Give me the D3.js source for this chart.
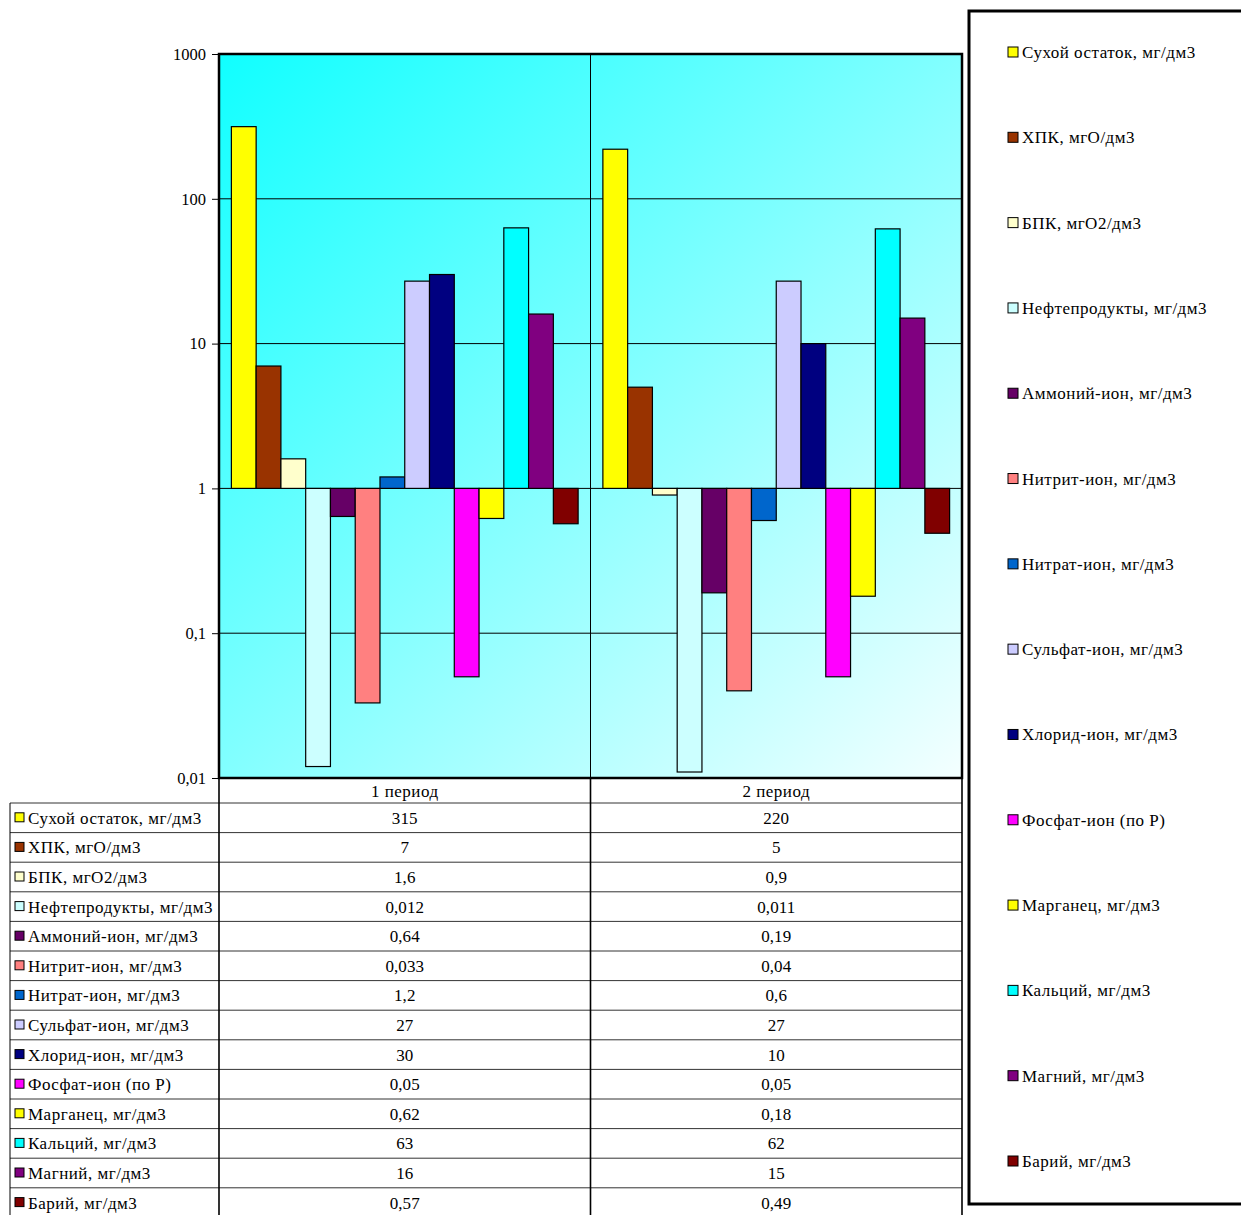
<!DOCTYPE html>
<html>
<head>
<meta charset="utf-8">
<script src="https://cdn.jsdelivr.net/npm/d3@7"></script>
<style>
  html, body { margin: 0; padding: 0; background: #fff; }
  svg text { font-family: "Liberation Serif", "Times New Roman", serif; fill: #000; }
  .lbl { font-size: 17px; letter-spacing: 0.5px; }
  .num { font-size: 17px; letter-spacing: 0.1px; }
</style>
</head>
<body>
<svg id="chart" width="1241" height="1215"></svg>
<script>
// Показатели качества воды по двум периодам
const periods = ["1 период", "2 период"];
const indicators = [
  "Сухой остаток, мг/дм3",
  "ХПК, мгО/дм3",
  "БПК, мгО2/дм3",
  "Нефтепродукты, мг/дм3",
  "Аммоний-ион, мг/дм3",
  "Нитрит-ион, мг/дм3",
  "Нитрат-ион, мг/дм3",
  "Сульфат-ион, мг/дм3",
  "Хлорид-ион, мг/дм3",
  "Фосфат-ион (по Р)",
  "Марганец, мг/дм3",
  "Кальций, мг/дм3",
  "Магний, мг/дм3",
  "Барий, мг/дм3"
];
const period1 = [315, 7, 1.6, 0.012, 0.64, 0.033, 1.2, 27, 30, 0.05, 0.62, 63, 16, 0.57];
const period2 = [220, 5, 0.9, 0.011, 0.19, 0.04, 0.6, 27, 10, 0.05, 0.18, 62, 15, 0.49];
const colors = ["#FFFF00", "#993300", "#FFFFCC", "#CCFFFF", "#660066", "#FF8080", "#0066CC",
                "#CCCCFF", "#000080", "#FF00FF", "#FFFF00", "#00FFFF", "#800080", "#800000"];
const yTicks = [0.01, 0.1, 1, 10, 100, 1000];

const fmt = v => String(v).replace(".", ",");
const series = [period1, period2];

const svg = d3.select("#chart");
const plot = { left: 219, right: 962, top: 54, bottom: 778 };

const defs = svg.append("defs");
const grad = defs.append("linearGradient").attr("id", "bg")
  .attr("x1", "0%").attr("y1", "0%").attr("x2", "100%").attr("y2", "100%");
grad.append("stop").attr("offset", "0%").attr("stop-color", "#10FFFF");
grad.append("stop").attr("offset", "100%").attr("stop-color", "#F4FFFF");

const y = d3.scaleLog().domain([0.01, 1000]).range([plot.bottom, plot.top]);
const x0 = d3.scaleBand().domain(periods).range([plot.left, plot.right]);
const x1 = d3.scaleBand().domain(d3.range(indicators.length))
  .range([0, x0.bandwidth()]).paddingOuter(0.5).paddingInner(0);

// plot background
svg.append("rect")
  .attr("x", plot.left).attr("y", plot.top)
  .attr("width", plot.right - plot.left).attr("height", plot.bottom - plot.top)
  .attr("fill", "url(#bg)");

// horizontal gridlines
svg.append("g").selectAll("line")
  .data(yTicks.filter(t => t > 0.01 && t < 1000))
  .join("line")
  .attr("x1", plot.left).attr("x2", plot.right)
  .attr("y1", d => y(d)).attr("y2", d => y(d))
  .attr("stroke", "#000").attr("stroke-width", 1);

// category divider
svg.append("line")
  .attr("x1", x0(periods[1])).attr("x2", x0(periods[1]))
  .attr("y1", plot.top).attr("y2", plot.bottom)
  .attr("stroke", "#000").attr("stroke-width", 1);

// bars grow from the value 1
const bars = [];
periods.forEach((p, pi) => {
  series[pi].forEach((v, i) => bars.push({ p, i, v }));
});
svg.append("g").selectAll("rect")
  .data(bars)
  .join("rect")
  .attr("x", d => x0(d.p) + x1(d.i))
  .attr("width", x1.bandwidth())
  .attr("y", d => Math.min(y(d.v), y(1)))
  .attr("height", d => Math.abs(y(d.v) - y(1)))
  .attr("fill", d => colors[d.i])
  .attr("stroke", "#000").attr("stroke-width", 1.2);

// plot border
svg.append("rect")
  .attr("x", plot.left).attr("y", plot.top)
  .attr("width", plot.right - plot.left).attr("height", plot.bottom - plot.top)
  .attr("fill", "none").attr("stroke", "#000").attr("stroke-width", 2.5);

// y axis
const yAxis = d3.axisLeft(y).tickValues(yTicks).tickSize(7).tickPadding(6)
  .tickFormat(d => fmt(d));
const ya = svg.append("g").attr("transform", `translate(${plot.left},0)`).call(yAxis);
ya.select(".domain").remove();
ya.selectAll("line").attr("stroke", "#000");
ya.selectAll("text").style("font-size", "16.5px")
  .style("font-family", "'Liberation Serif', serif");

// data table
const rowH = 29.6;
const headTop = plot.bottom, headBot = 803;
const tableLeft = 10;
const tbl = svg.append("g");

tbl.selectAll("text.period")
  .data(periods).join("text")
  .attr("class", "lbl")
  .attr("x", d => x0(d) + x0.bandwidth() / 2)
  .attr("y", (headTop + headBot) / 2 + 6)
  .attr("text-anchor", "middle")
  .text(d => d);

const rowY = i => headBot + i * rowH;
// horizontal rules
tbl.selectAll("line.h")
  .data(d3.range(indicators.length + 1)).join("line")
  .attr("x1", tableLeft).attr("x2", plot.right)
  .attr("y1", d => rowY(d)).attr("y2", d => rowY(d))
  .attr("stroke", "#333").attr("stroke-width", 1);
// vertical rules
[{ x: tableLeft, t: headBot }, { x: plot.left, t: headTop }, { x: x0(periods[1]), t: headTop }, { x: plot.right, t: headTop }]
  .forEach(v => {
    tbl.append("line").attr("x1", v.x).attr("x2", v.x)
      .attr("y1", v.t).attr("y2", 1215)
      .attr("stroke", "#000").attr("stroke-width", v.x === tableLeft ? 1 : 1.6);
  });

const rows = tbl.selectAll("g.row").data(indicators).join("g");
rows.append("rect")
  .attr("x", 15).attr("y", (d, i) => rowY(i) + rowH / 2 - 5)
  .attr("width", 9).attr("height", 9)
  .attr("fill", (d, i) => colors[i]).attr("stroke", "#000").attr("stroke-width", 1);
rows.append("text")
  .attr("class", "lbl")
  .attr("x", 28).attr("y", (d, i) => rowY(i) + rowH / 2 + 6)
  .text(d => d);
periods.forEach((p, pi) => {
  rows.append("text")
    .attr("class", "num")
    .attr("x", x0(p) + x0.bandwidth() / 2)
    .attr("y", (d, i) => rowY(i) + rowH / 2 + 6)
    .attr("text-anchor", "middle")
    .text((d, i) => fmt(series[pi][i]));
});

// legend
const lg = svg.append("g");
lg.append("rect")
  .attr("x", 969).attr("y", 11).attr("width", 290).attr("height", 1193)
  .attr("fill", "#fff").attr("stroke", "#000").attr("stroke-width", 3);
const ly = d3.scalePoint().domain(d3.range(indicators.length)).range([52, 1161]);
const items = lg.selectAll("g.item").data(indicators).join("g")
  .attr("transform", (d, i) => `translate(1008,${ly(i)})`);
items.append("rect")
  .attr("x", 0).attr("y", -5).attr("width", 10).attr("height", 10)
  .attr("fill", (d, i) => colors[i]).attr("stroke", "#000").attr("stroke-width", 1);
items.append("text")
  .attr("class", "lbl")
  .attr("x", 14).attr("y", 6).text(d => d);
</script>
</body>
</html>
